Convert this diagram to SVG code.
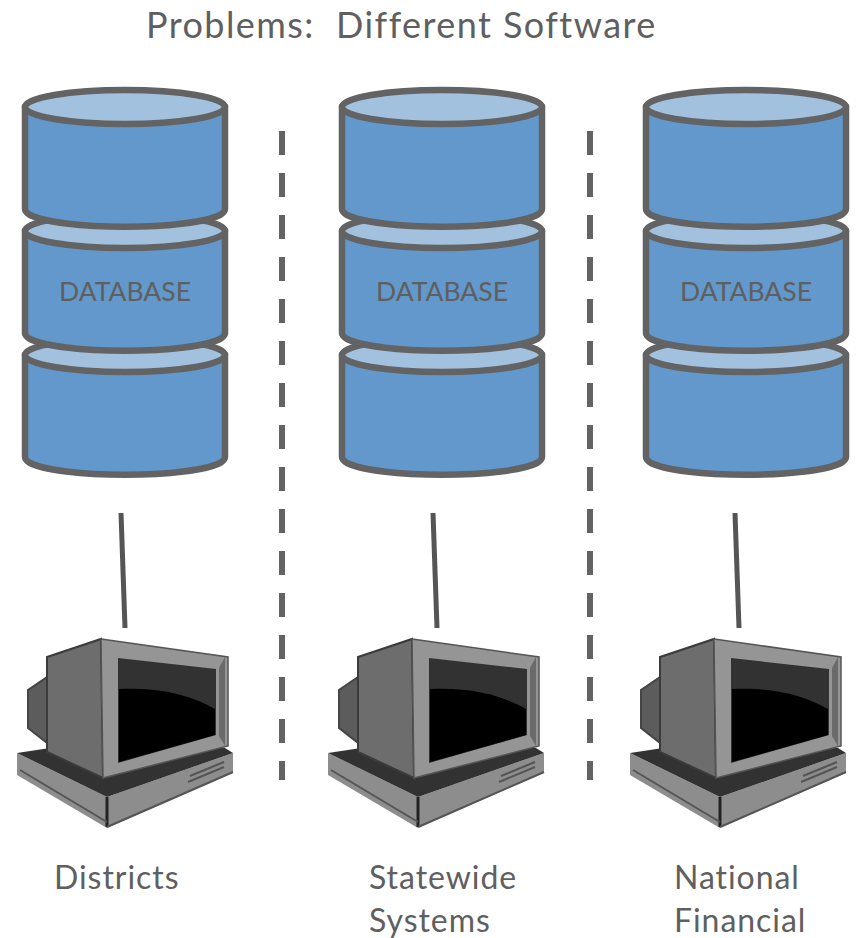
<svg xmlns="http://www.w3.org/2000/svg" xmlns:xlink="http://www.w3.org/1999/xlink" width="856" height="938" viewBox="0 0 856 938">
<style>
text{font-family:"Lato","Open Sans","Liberation Sans",sans-serif;fill:#5f5f5f}
.t{font-size:36px;letter-spacing:1.43px}.l{font-size:32px;letter-spacing:.95px}.d{font-size:26.5px;text-anchor:middle}
.b{fill:#6298cb;stroke:#636363;stroke-width:6.5;stroke-linejoin:round}
.e{fill:#a2c1df;stroke:#636363;stroke-width:6.5}
.c{stroke:#555;stroke-width:5;fill:none}
.s{stroke:#636363;stroke-width:6;stroke-dasharray:24 18;fill:none}
</style>
<defs>
<filter id="soft" x="-5%" y="-5%" width="110%" height="110%"><feGaussianBlur stdDeviation="0.7"/></filter>
<g id="cyl">
<path class="b" d="M25 107V209C25 212 27 213 30 215A100 17 0 0 0 220 215C223 213 225 212 225 209V107Z"/>
<ellipse class="e" cx="125" cy="107" rx="100" ry="17"/>
</g>
<g id="db">
<use xlink:href="#cyl" transform="translate(0,248)"/>
<use xlink:href="#cyl" transform="translate(0,124)"/>
<use xlink:href="#cyl"/>
</g>
<g id="pc" filter="url(#soft)">
<path d="M17 753L17 775L107 828L233 773L233 753L107 797Z" fill="#8d8d8d"/>
<path d="M107 797L107 827" stroke="#222" stroke-width="3"/>
<path d="M17 753L107 797L233 753L225 748L50 748Z" fill="#333"/>
<path d="M20 770L107 822M107 827L233 772" stroke="#555" stroke-width="2" fill="none"/>
<path d="M188 782L224 767M190 776L224 762" stroke="#555" stroke-width="2"/>
<path d="M47 677L28 690V728L47 743Z" fill="#5b5b5b" stroke="#444" stroke-width="2"/>
<path d="M47 657L101 639L103 778L47 752Z" fill="#6d6d6d" stroke="#3a3a3a" stroke-width="2"/>
<path d="M101 639L228 657V746L103 778Z" fill="#959595" stroke="#555" stroke-width="1.5"/>
<path d="M219 668L225 657V746L219 736Z" fill="#6b6b6b"/>
<path d="M118 658L216 669V735L118 763Z" fill="#333"/>
<path d="M119 689C160 687 190 695 215 709V735L119 762Z" fill="#000"/>
</g>
</defs>
<text class="t" x="146" y="38">Problems:&#160; Different Software</text>
<g id="connectors">
<path class="c" d="M121 513L125 628"/>
<path class="c" d="M433 513L437 628"/>
<path class="c" d="M735 513L739 628"/>
<path class="s" d="M282 131V780"/>
<path class="s" d="M590 131V780"/>
</g>
<g id="db-districts"><use xlink:href="#db"/><text class="d" x="125" y="301">DATABASE</text></g>
<g id="db-statewide"><use xlink:href="#db" transform="translate(317,0)"/><text class="d" x="442" y="301">DATABASE</text></g>
<g id="db-national"><use xlink:href="#db" transform="translate(621,0)"/><text class="d" x="746" y="301">DATABASE</text></g>
<g id="pc-districts"><use xlink:href="#pc"/><text class="l" x="54" y="889">Districts</text></g>
<g id="pc-statewide"><use xlink:href="#pc" transform="translate(311,0)"/><text class="l" x="369" y="889">Statewide</text><text class="l" x="369" y="932">Systems</text></g>
<g id="pc-national"><use xlink:href="#pc" transform="translate(613,0)"/><text class="l" x="674" y="889">National</text><text class="l" x="674" y="932">Financial</text></g>
</svg>
